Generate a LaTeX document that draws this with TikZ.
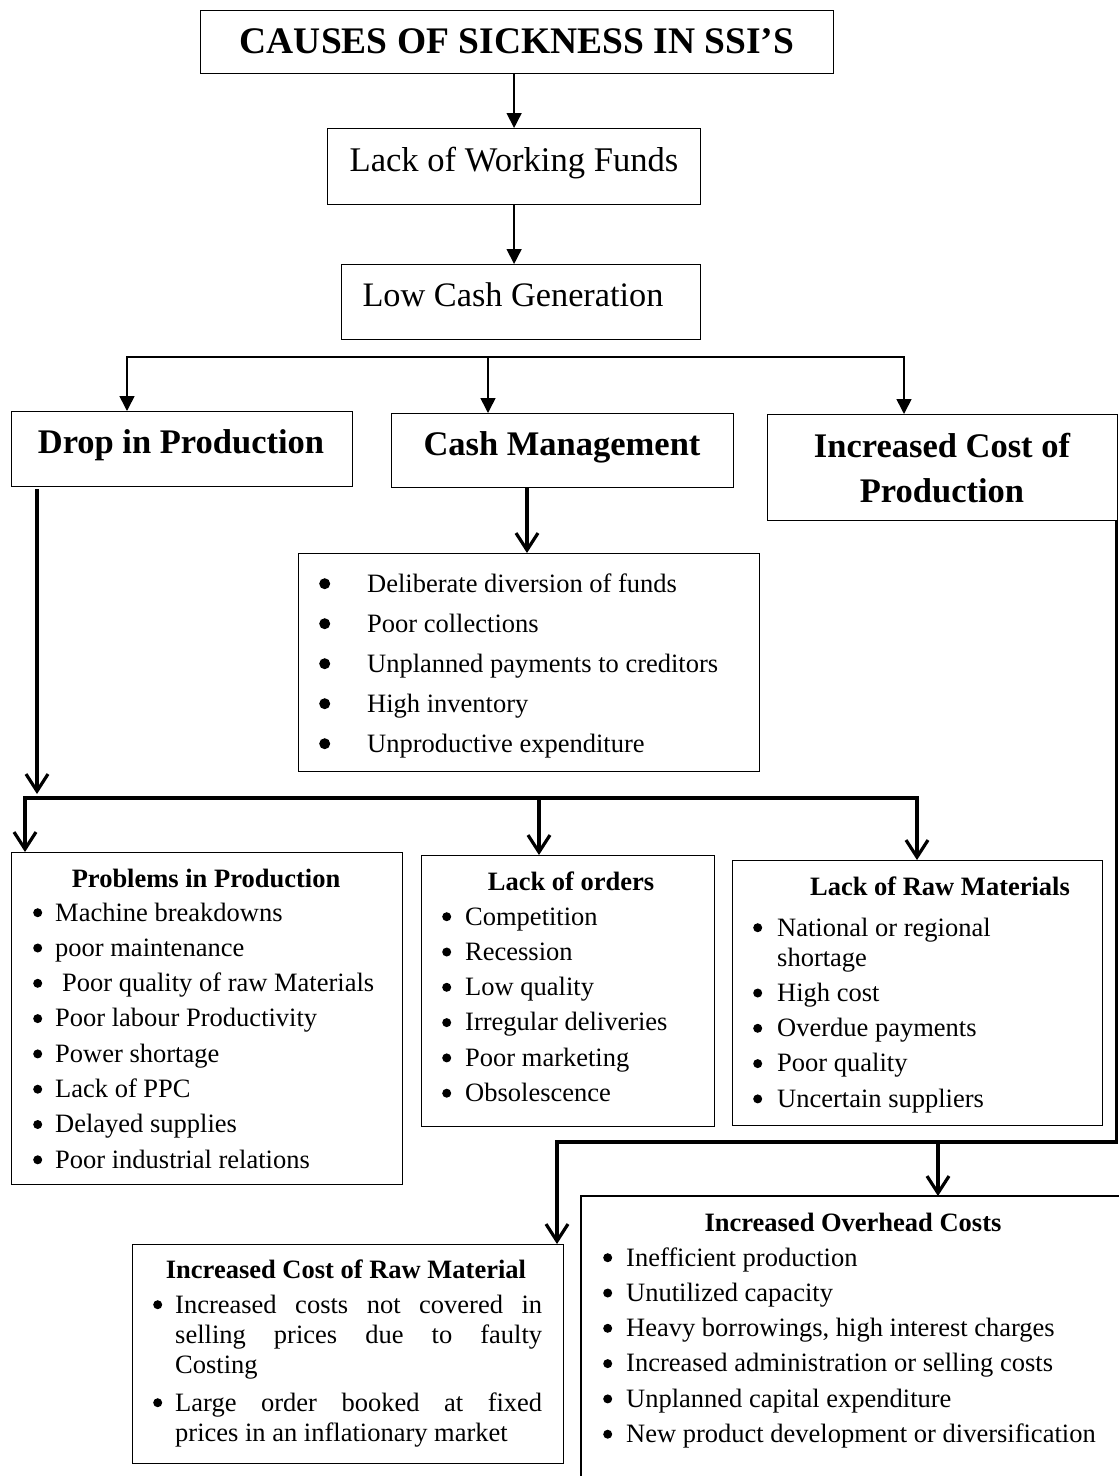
\documentclass[tikz,border=0pt]{standalone}
\usepackage{fontspec}
\setmainfont{Liberation Serif}
\usetikzlibrary{arrows.meta}

% round bullet (radius #2) set in a box of width #1, centred 8pt above the baseline
\newcommand\bulr[2]{\makebox[#1][l]{\tikz[x=1pt,y=1pt,baseline=0pt]\fill (#2,8.3) circle (#2);}}
\newcommand\bul[1]{\bulr{#1}{4.5}}
\newcommand\itemsize{\fontsize{26.5}{35.3}\selectfont}
\newcommand\headsize{\fontsize{26.5}{30}\selectfont\bfseries}

\begin{document}
\begin{tikzpicture}[x=1pt,y=-1pt,
  box/.style={draw, line width=1.2pt, inner sep=0pt, anchor=north west},
  lbl/.style={anchor=base, inner sep=0pt},
  lst/.style={anchor=base west, inner sep=0pt},
  thinarrow/.style={line width=1.6pt, -{Triangle[length=15pt,width=15pt]}},
  thickarrow/.style={line width=3.2pt, line join=miter, -{Straight Barb[length=17pt,width=22pt]}},
]
\useasboundingbox (0,0) rectangle (1119,1476);

% ---------- boxes ----------
\node[box, minimum width=633pt, minimum height=63pt] (title) at (200,10) {};
\node[box, minimum width=373pt, minimum height=76pt] (lack) at (327,128) {};
\node[box, minimum width=359pt, minimum height=75pt] (low) at (341,264) {};
\node[box, minimum width=341pt, minimum height=75pt] (drop) at (11,411) {};
\node[box, minimum width=342pt, minimum height=74pt] (cash) at (391,413) {};
\node[box, minimum width=350pt, minimum height=106pt] (inc) at (767,414) {};
\node[box, minimum width=461pt, minimum height=218pt] (list) at (298,553) {};
\node[box, minimum width=391pt, minimum height=332pt] (prob) at (11,852) {};
\node[box, minimum width=293pt, minimum height=271pt] (orders) at (421,855) {};
\node[box, minimum width=370pt, minimum height=265pt] (rawlack) at (732,860) {};
\node[box, minimum width=431pt, minimum height=219pt] (rawcost) at (132,1244) {};
% overhead box runs past the right and bottom edges
\draw[line width=1.2pt] (1125,1196) -- (581,1196) -- (581,1482);
\coordinate (ovtop) at (938,1196);

% ---------- headings ----------
\node[lbl, font=\fontsize{37.5}{40}\selectfont\bfseries] (titletxt) at (517,53) {CAUSES OF SICKNESS IN SSI’S};
\node[lbl, font=\fontsize{34.6}{40}\selectfont] (lacktxt) at (514,171) {Lack of Working Funds};
\node[lbl, font=\fontsize{34.3}{40}\selectfont] (lowtxt) at (513,306) {Low Cash Generation};
\node[lbl, font=\fontsize{34.5}{40}\selectfont\bfseries] (droptxt) at (181,453) {Drop in Production};
\node[lbl, font=\fontsize{34.5}{40}\selectfont\bfseries] (cashtxt) at (562,455) {Cash Management};
\node[lbl, font=\fontsize{34.5}{40}\selectfont\bfseries] (inctxtA) at (942,457) {Increased Cost of};
\node[lbl, font=\fontsize{34.5}{40}\selectfont\bfseries] (inctxtB) at (942,502) {Production};

% ---------- cash management list ----------
\node[lst] (cashitems) at (319,592) {\parbox[t]{430pt}{\fontsize{26.5}{40}\selectfont
  \bulr{48pt}{5.5}Deliberate diversion of funds\\
  \bulr{48pt}{5.5}Poor collections\\
  \bulr{48pt}{5.5}Unplanned payments to creditors\\
  \bulr{48pt}{5.5}High inventory\\
  \bulr{48pt}{5.5}Unproductive expenditure}};

% ---------- problems in production ----------
\node[lbl, font=\headsize] (probhead) at (206,887) {Problems in Production};
\node[lst] (probitems) at (33,921) {\parbox[t]{365pt}{\itemsize
  \bul{22pt}Machine breakdowns\\
  \bul{22pt}poor maintenance\\
  \bul{29pt}Poor quality of raw Materials\\
  \bul{22pt}Poor labour Productivity\\
  \bul{22pt}Power shortage\\
  \bul{22pt}Lack of PPC\\
  \bul{22pt}Delayed supplies\\
  \bul{22pt}Poor industrial relations}};

% ---------- lack of orders ----------
\node[lbl, font=\headsize] (ordhead) at (571,890) {Lack of orders};
\node[lst] (orditems) at (442,925) {\parbox[t]{265pt}{\itemsize
  \bul{23pt}Competition\\
  \bul{23pt}Recession\\
  \bul{23pt}Low quality\\
  \bul{23pt}Irregular deliveries\\
  \bul{23pt}Poor marketing\\
  \bul{23pt}Obsolescence}};

% ---------- lack of raw materials ----------
\node[lbl, font=\headsize] (rlhead) at (940,895) {Lack of Raw Materials};
\node[lst] (rlitems) at (753,936) {\parbox[t]{340pt}{\itemsize
  \bul{24pt}National or regional\\[-5.3pt]
  \hspace*{24pt}shortage\\
  \bul{24pt}High cost\\
  \bul{24pt}Overdue payments\\
  \bul{24pt}Poor quality\\
  \bul{24pt}Uncertain suppliers}};

% ---------- increased cost of raw material ----------
\node[lbl, font=\headsize] (rchead) at (346,1278) {Increased Cost of Raw Material};
\node[lst] (rcitems) at (153,1313) {\parbox[t]{389pt}{\fontsize{26.5}{30}\selectfont
  \tolerance=10000 \hbadness=10000 \parindent=0pt
  \hangindent=22pt \hangafter=1
  \bul{22pt}Increased costs not covered in\linebreak
  selling prices due to faulty\linebreak
  Costing\par
  \vspace{8pt}\hangindent=22pt \hangafter=1
  \bul{22pt}Large order booked at fixed\linebreak
  prices in an inflationary market\par}};

% ---------- increased overhead costs ----------
\node[lbl, font=\headsize] (ovhead) at (853,1231) {Increased Overhead Costs};
\node[lst] (ovitems) at (603,1266) {\parbox[t]{510pt}{\itemsize
  \bul{23pt}Inefficient production\\
  \bul{23pt}Unutilized capacity\\
  \bul{23pt}Heavy borrowings, high interest charges\\
  \bul{23pt}Increased administration or selling costs\\
  \bul{23pt}Unplanned capital expenditure\\
  \bul{23pt}New product development or diversification}};

% ---------- thin connectors at the top ----------
\draw[thinarrow] (title.south -| lack.north) -- (lack.north);
\draw[thinarrow] (lack.south) -- (lack.south |- low.north);
\coordinate (brAL) at (127,357);
\coordinate (brAM) at (488,357);
\coordinate (brAR) at (904,357);
\draw[thinarrow] (brAM) -- (brAL) -- (brAL |- drop.north);
\draw[thinarrow] (brAM) -- (brAR) -- (brAR |- inc.north);
\draw[thinarrow] (brAM) -- (brAM |- cash.north);

% ---------- thick connectors ----------
\coordinate (cashout) at (527,487);
\draw[thickarrow] (cashout) -- (cashout |- list.north);

\coordinate (dropout) at (37,489);
\coordinate (dropend) at (37,794);
\draw[thickarrow] (dropout) -- (dropend);

\coordinate (brBL) at (25,798);
\coordinate (brBM) at (539,798);
\coordinate (brBR) at (917,798);
\draw[thickarrow] (brBM) -- (brBL) -- (brBL |- prob.north);
\draw[thickarrow] (brBM) -- (brBR) -- (brBR |- rawlack.north);
\draw[thickarrow] (brBM) -- (brBM |- orders.north);

\coordinate (incout) at ([xshift=-1.6pt]inc.south east);
\coordinate (brCL) at (557,1142);
\coordinate (brCM) at (938,1142);
\draw[thickarrow] (incout) -- (incout |- brCL) -- (brCL) -- (brCL |- rawcost.north);
\draw[thickarrow] (brCM) -- (ovtop);
\end{tikzpicture}
\end{document}
